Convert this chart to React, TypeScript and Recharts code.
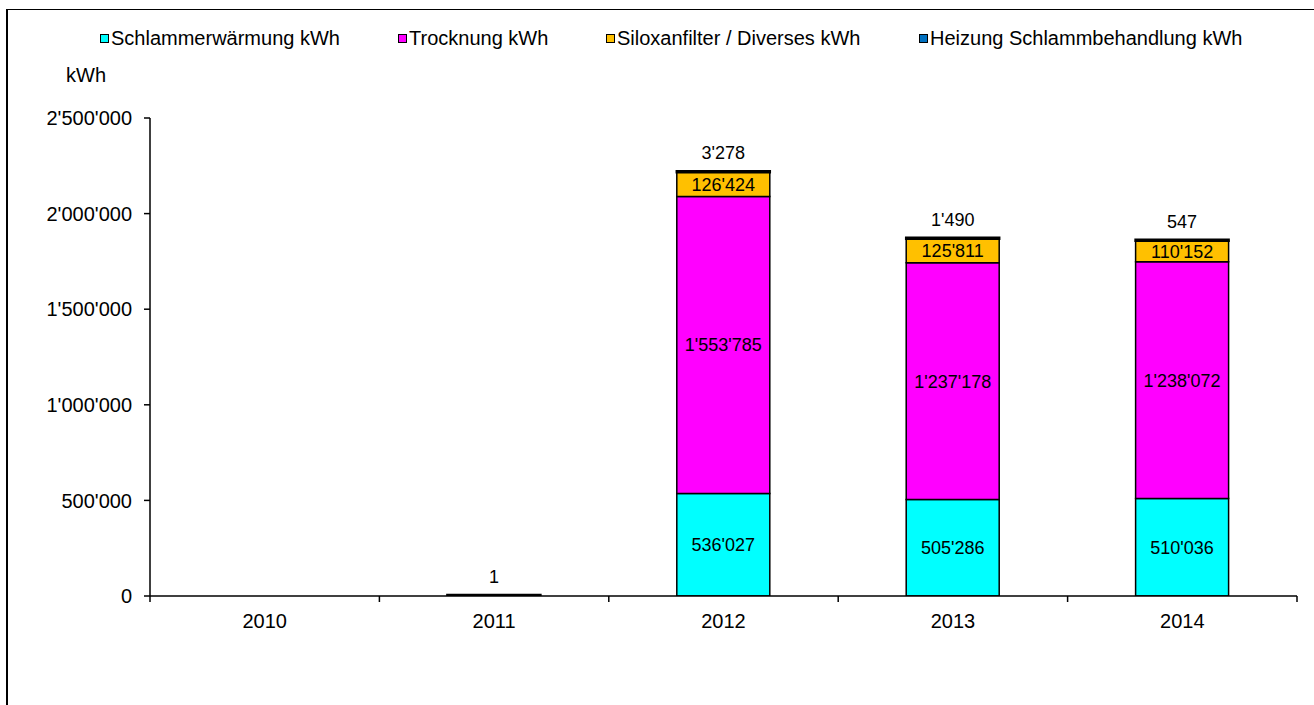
import React from 'react';
import { BarChart, Bar, XAxis, YAxis, LabelList } from 'recharts';

const years = ['2010', '2011', '2012', '2013', '2014'];
const schlammerwaermung: (number | null)[] = [null, null, 536027, 505286, 510036];
const trocknung: (number | null)[] = [null, null, 1553785, 1237178, 1238072];
const siloxanfilter: (number | null)[] = [null, null, 126424, 125811, 110152];
const heizung: (number | null)[] = [null, 1, 3278, 1490, 547];
const yTicks = [0, 500000, 1000000, 1500000, 2000000, 2500000];

const seriesNames = [
  'Schlammerwärmung kWh',
  'Trocknung kWh',
  'Siloxanfilter / Diverses kWh',
  'Heizung Schlammbehandlung kWh',
];
const seriesColors = ['#00FFFF', '#FF00FF', '#FFC000', '#0070C0'];
const legendLeft = [100, 398, 606, 919];

const data = years.map((y, i) => ({
  year: y,
  s: schlammerwaermung[i],
  t: trocknung[i],
  x: siloxanfilter[i],
  h: heizung[i],
}));

const FONT = '"Liberation Sans", Arial, sans-serif';

const fmt = (v: any) => {
  if (v === null || v === undefined || v === '' || Number(v) === 0) return '';
  return String(Math.round(Number(v))).replace(/\B(?=(\d{3})+(?!\d))/g, "'");
};
const fmtAxis = (v: any) => String(v).replace(/\B(?=(\d{3})+(?!\d))/g, "'");

const XTick = (props: any) => {
  const { x, y, payload, index } = props;
  const off = payload && payload.offset ? payload.offset : 0;
  return (
    <g>
      {index === 0 && <line x1={x - off} x2={x - off} y1={y - 8} y2={y - 2} stroke="#000" strokeWidth={1.5} />}
      <line x1={x + off} x2={x + off} y1={y - 8} y2={y - 2} stroke="#000" strokeWidth={1.5} />
      <text x={x} y={y + 24} textAnchor="middle" fontSize={20} fontFamily={FONT} fill="#000">
        {payload.value}
      </text>
    </g>
  );
};

const heizMin = (v: any) => (v === null || v === undefined || Number(v) === 0 ? 0 : 1);

export default function App() {
  return (
    <div style={{ position: 'absolute', left: 0, top: 0, width: 1314, height: 705, overflow: 'hidden', background: '#fff', fontFamily: FONT }}>
      <div style={{ position: 'absolute', left: 6, top: 9, width: 1400, height: 800, borderLeft: '2px solid #000', borderTop: '1.5px solid #000' }} />
      {seriesNames.map((n, i) => (
        <div key={n} style={{ position: 'absolute', left: legendLeft[i], top: 27, height: 22, display: 'flex', alignItems: 'center', fontSize: 20, color: '#000', whiteSpace: 'nowrap' }}>
          <span style={{ display: 'inline-block', width: 7, height: 7, background: seriesColors[i], border: '1px solid #000', marginRight: 2 }} />
          <span>{n}</span>
        </div>
      ))}
      <div style={{ position: 'absolute', left: 66, top: 64, fontSize: 20, color: '#000' }}>kWh</div>
      <div style={{ position: 'absolute', left: 0, top: 0 }}>
        <BarChart
          width={1314}
          height={705}
          data={data}
          margin={{ top: 118, right: 17, bottom: 69, left: 50 }}
          barSize={93}
        >
          <XAxis
            dataKey="year"
            axisLine={{ stroke: '#000', strokeWidth: 1.5 }}
            tickLine={false}
            height={40}
            tick={<XTick />}
            interval={0}
          />
          <YAxis
            width={100}
            domain={[0, 2500000]}
            ticks={yTicks}
            tickFormatter={fmtAxis}
            axisLine={{ stroke: '#000', strokeWidth: 1.5 }}
            tickLine={{ stroke: '#000', strokeWidth: 1.5 }}
            tickSize={6}
            tickMargin={12}
            tick={{ fontSize: 20, fontFamily: FONT, fill: '#000' }}
            allowDataOverflow
          />
          <Bar dataKey="s" stackId="a" fill={seriesColors[0]} stroke="#000" strokeWidth={1.5} isAnimationActive={false}>
            <LabelList dataKey="s" position="center" formatter={fmt} style={{ fontSize: 18, fontFamily: FONT, fill: '#000' }} />
          </Bar>
          <Bar dataKey="t" stackId="a" fill={seriesColors[1]} stroke="#000" strokeWidth={1.5} isAnimationActive={false}>
            <LabelList dataKey="t" position="center" formatter={fmt} style={{ fontSize: 18, fontFamily: FONT, fill: '#000' }} />
          </Bar>
          <Bar dataKey="x" stackId="a" fill={seriesColors[2]} stroke="#000" strokeWidth={1.5} isAnimationActive={false}>
            <LabelList dataKey="x" position="center" formatter={fmt} style={{ fontSize: 18, fontFamily: FONT, fill: '#000' }} />
          </Bar>
          <Bar dataKey="h" stackId="a" fill={seriesColors[3]} stroke="#000" strokeWidth={2.5} minPointSize={heizMin as any} isAnimationActive={false}>
            <LabelList dataKey="h" position="top" offset={12} formatter={fmt} style={{ fontSize: 18, fontFamily: FONT, fill: '#000' }} />
          </Bar>
        </BarChart>
      </div>
    </div>
  );
}
